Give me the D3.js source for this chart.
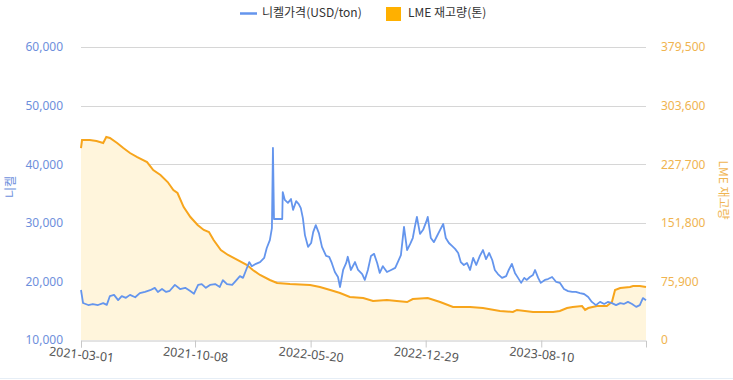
<!DOCTYPE html>
<html>
<head>
<meta charset="utf-8">
<script src="https://cdn.jsdelivr.net/npm/d3@7"></script>
<style>
  body { margin: 0; background: #fff; }
  svg { display: block; font-family: "Noto Sans CJK KR", "Noto Sans", sans-serif; }
</style>
</head>
<body>
<svg id="chart" width="733" height="380"></svg>
<script>
// nickel price, USD/ton
var nickel = [
  ["2021-03-01",18530],["2021-03-05",16310],["2021-03-15",15970],["2021-03-24",16140],["2021-04-03",15970],
  ["2021-04-13",16300],["2021-04-20",16000],["2021-04-26",17500],["2021-05-04",17700],["2021-05-12",16800],
  ["2021-05-19",17500],["2021-05-27",17200],["2021-06-04",17700],["2021-06-14",17300],["2021-06-23",18000],
  ["2021-07-03",18200],["2021-07-13",18500],["2021-07-22",18900],["2021-07-28",18200],["2021-08-05",18700],
  ["2021-08-13",18200],["2021-08-20",18400],["2021-08-30",19400],["2021-09-09",18700],["2021-09-19",18900],
  ["2021-09-28",18400],["2021-10-06",17900],["2021-10-14",19400],["2021-10-21",19550],["2021-10-29",18900],
  ["2021-11-06",19400],["2021-11-16",19550],["2021-11-25",19050],["2021-12-01",20200],["2021-12-09",19550],
  ["2021-12-19",19400],["2021-12-26",20100],["2022-01-03",20900],["2022-01-09",20600],["2022-01-15",21950],
  ["2022-01-21",23300],["2022-01-26",22600],["2022-02-03",23000],["2022-02-11",23300],["2022-02-19",24000],
  ["2022-02-24",25700],["2022-03-02",27050],["2022-03-06",29100],["2022-03-08",42800],["2022-03-10",30650],
  ["2022-03-26",30650],["2022-03-27",35250],["2022-03-31",33900],["2022-04-06",33400],["2022-04-12",34050],
  ["2022-04-16",32200],["2022-04-22",33700],["2022-04-27",33200],["2022-05-01",32500],["2022-05-05",30800],
  ["2022-05-09",27900],["2022-05-15",25900],["2022-05-21",26550],["2022-05-25",28400],["2022-05-30",29600],
  ["2022-06-05",28250],["2022-06-11",25900],["2022-06-19",24350],["2022-06-25",24200],["2022-06-30",23150],
  ["2022-07-06",21600],["2022-07-12",20750],["2022-07-16",19050],["2022-07-22",21950],["2022-07-28",23150],
  ["2022-07-31",24200],["2022-08-06",21950],["2022-08-14",23300],["2022-08-20",21950],["2022-08-28",21250],
  ["2022-09-02",20250],["2022-09-08",21950],["2022-09-14",24350],["2022-09-20",24700],["2022-09-26",23150],
  ["2022-10-01",21450],["2022-10-07",22600],["2022-10-15",21600],["2022-10-23",21950],["2022-10-31",22300],
  ["2022-11-05",23300],["2022-11-11",24500],["2022-11-17",29300],["2022-11-23",25350],["2022-11-29",26400],
  ["2022-12-04",27400],["2022-12-08",29300],["2022-12-12",31000],["2022-12-18",28100],["2022-12-24",28800],
  ["2022-12-30",30150],["2023-01-02",31000],["2023-01-08",27400],["2023-01-14",26700],["2023-01-20",27750],
  ["2023-01-26",28800],["2023-02-01",29800],["2023-02-06",27400],["2023-02-12",26550],["2023-02-18",26050],
  ["2023-02-24",25550],["2023-03-02",24850],["2023-03-07",23300],["2023-03-13",22800],["2023-03-19",23150],
  ["2023-03-25",21950],["2023-03-31",24000],["2023-04-06",22800],["2023-04-13",24350],["2023-04-19",25350],
  ["2023-04-25",23800],["2023-05-01",24850],["2023-05-07",23650],["2023-05-12",21950],["2023-05-18",21250],
  ["2023-05-26",20600],["2023-06-03",20900],["2023-06-08",21950],["2023-06-14",23000],["2023-06-20",21450],
  ["2023-06-26",20600],["2023-07-02",19750],["2023-07-08",20600],["2023-07-13",20250],["2023-07-19",20750],
  ["2023-07-25",21100],["2023-07-29",21950],["2023-08-04",20600],["2023-08-09",19750],["2023-08-17",20250],
  ["2023-08-23",20400],["2023-08-31",20750],["2023-09-08",19900],["2023-09-15",19750],["2023-09-23",18700],
  ["2023-10-01",18350],["2023-10-09",18200],["2023-10-16",18200],["2023-10-24",18000],["2023-11-01",17850],
  ["2023-11-09",17350],["2023-11-16",16500],["2023-11-24",15950],["2023-12-02",16500],["2023-12-10",16150],
  ["2023-12-17",16500],["2023-12-25",16300],["2024-01-02",15950],["2024-01-10",16300],["2024-01-17",16150],
  ["2024-01-25",16500],["2024-02-02",16150],["2024-02-10",15650],["2024-02-17",15950],["2024-02-23",17150],
  ["2024-02-29",16800]
];

// LME stocks, tons
var stock = [
  ["2021-03-01",248600],["2021-03-03",259000],["2021-03-18",259000],["2021-03-31",257700],["2021-04-13",255100],
  ["2021-04-19",262900],["2021-04-26",261600],["2021-05-10",255100],["2021-05-22",248600],["2021-06-04",242200],
  ["2021-06-18",237000],["2021-07-07",230500],["2021-07-19",220200],["2021-08-02",213700],["2021-08-16",204600],
  ["2021-08-27",194300],["2021-09-04",190400],["2021-09-16",172200],["2021-09-29",159300],["2021-10-13",148900],
  ["2021-10-25",142500],["2021-11-04",139900],["2021-11-13",129500],["2021-11-27",116600],["2021-12-11",110100],
  ["2021-12-30",103600],["2022-01-17",97100],["2022-01-28",90700],["2022-02-11",84200],["2022-03-02",77700],
  ["2022-03-16",73800],["2022-04-10",72500],["2022-05-19",71200],["2022-06-07",68600],["2022-06-27",64700],
  ["2022-07-16",60900],["2022-08-04",55700],["2022-08-30",54400],["2022-09-18",50500],["2022-10-15",51800],
  ["2022-11-03",50500],["2022-11-23",49200],["2022-12-04",53100],["2023-01-02",54400],["2023-01-26",49200],
  ["2023-02-20",42700],["2023-03-25",42700],["2023-04-19",41400],["2023-05-22",37600],["2023-06-16",36300],
  ["2023-06-24",38900],["2023-07-25",36300],["2023-09-02",36300],["2023-09-15",37600],["2023-09-29",41400],
  ["2023-10-10",42700],["2023-10-28",44000],["2023-11-03",38900],["2023-11-09",41400],["2023-11-26",44000],
  ["2023-12-15",44000],["2023-12-25",49200],["2023-12-31",64700],["2024-01-10",67300],["2024-01-29",68600],
  ["2024-02-04",69900],["2024-02-17",69900],["2024-02-29",68600]
];

var xTicks = ["2021-03-01", "2021-10-08", "2022-05-20", "2022-12-29", "2023-08-10"];
var leftTicks = [10000, 20000, 30000, 40000, 50000, 60000];
var rightTicks = [0, 75900, 151800, 227700, 303600, 379500];
var legendNames = ["니켈가격(USD/ton)", "LME 재고량(톤)"];

function drawChart() {
  var blue = "#6495ed", orange = "#f7a51c";
  var parse = d3.timeParse("%Y-%m-%d");

  var svg = d3.select("#chart");
  var plotL = 81, plotR = 646, plotT = 47, plotB = 340;

  var x = d3.scaleTime()
    .domain([parse("2021-03-01"), parse("2024-02-29")])
    .range([plotL, plotR]);
  var yL = d3.scaleLinear().domain([10000, 60000]).range([plotB, plotT]);
  var yR = d3.scaleLinear().domain([0, 379500]).range([plotB, plotT]);

  // grid
  svg.append("g")
    .selectAll("line")
    .data(leftTicks.slice(1))
    .enter().append("line")
    .attr("x1", plotL).attr("x2", plotR)
    .attr("y1", function(d) { return Math.round(yL(d)) + 0.5; })
    .attr("y2", function(d) { return Math.round(yL(d)) + 0.5; })
    .attr("stroke", "#d6d6d6");

  // stock area + line
  svg.append("path")
    .datum(stock)
    .attr("fill", "#fff5dc")
    .attr("d", d3.area()
      .x(function(d) { return x(parse(d[0])); })
      .y0(plotB)
      .y1(function(d) { return yR(d[1]); }));

  svg.append("path")
    .datum(stock)
    .attr("fill", "none")
    .attr("stroke", orange)
    .attr("stroke-width", 2)
    .attr("d", d3.line()
      .x(function(d) { return x(parse(d[0])); })
      .y(function(d) { return yR(d[1]); }));

  // nickel line
  svg.append("path")
    .datum(nickel)
    .attr("fill", "none")
    .attr("stroke", blue)
    .attr("stroke-width", 1.8)
    .attr("stroke-linejoin", "round")
    .attr("d", d3.line()
      .x(function(d) { return x(parse(d[0])); })
      .y(function(d) { return yL(d[1]); }));

  // x axis
  var xAxis = svg.append("g")
    .attr("transform", "translate(0," + (plotB + 0.5) + ")")
    .call(d3.axisBottom(x)
      .tickValues(xTicks.map(parse))
      .tickSize(7)
      .tickFormat(d3.timeFormat("%Y-%m-%d")));
  xAxis.select(".domain").attr("stroke", "#c8c8c8");
  xAxis.selectAll(".tick line").attr("stroke", "#c8c8c8");
  xAxis.selectAll(".tick text")
    .attr("fill", "#555")
    .style("font-size", "12.5px")
    .style("font-family", "'Noto Sans', sans-serif")
    .attr("y", 0).attr("dy", 0)
    .attr("text-anchor", "middle")
    .attr("dominant-baseline", "middle")
    .attr("transform", "translate(0,15) rotate(6)");

  // left axis
  var yAxisL = svg.append("g")
    .attr("transform", "translate(" + (plotL - 15) + ",0)")
    .call(d3.axisLeft(yL).tickValues(leftTicks).tickSize(0).tickFormat(d3.format(",")));
  yAxisL.select(".domain").remove();
  yAxisL.selectAll("text")
    .attr("fill", "#6d8fdc")
    .style("font-size", "12px")
    .style("font-family", "'Noto Sans', sans-serif");

  // right axis
  var yAxisR = svg.append("g")
    .attr("transform", "translate(" + (plotR + 15) + ",0)")
    .call(d3.axisRight(yR).tickValues(rightTicks).tickSize(0).tickFormat(d3.format(",")));
  yAxisR.select(".domain").remove();
  yAxisR.selectAll("text")
    .attr("fill", "#f0b450")
    .attr("x", 0)
    .style("font-size", "12px")
    .style("font-family", "'Noto Sans', sans-serif");

  // axis titles
  svg.append("text")
    .attr("transform", "translate(12,187) rotate(-90)")
    .attr("text-anchor", "middle")
    .attr("dominant-baseline", "middle")
    .attr("fill", "#6d8fdc")
    .style("font-size", "12px")
    .text("니켈");

  svg.append("text")
    .attr("transform", "translate(722,190) rotate(90)")
    .attr("text-anchor", "middle")
    .attr("dominant-baseline", "middle")
    .attr("fill", "#f0b450")
    .style("font-size", "12px")
    .text("LME 재고량");

  // legend
  var legend = svg.append("g");
  legend.append("line")
    .attr("x1", 240).attr("x2", 257).attr("y1", 13.5).attr("y2", 13.5)
    .attr("stroke", blue).attr("stroke-width", 2.5);
  legend.append("text")
    .attr("x", 262).attr("y", 14)
    .attr("dominant-baseline", "middle")
    .attr("fill", "#333")
    .style("font-size", "12px")
    .text(legendNames[0]);
  legend.append("rect")
    .attr("x", 386).attr("y", 7).attr("width", 15).attr("height", 14)
    .attr("fill", "#ffb000");
  legend.append("text")
    .attr("x", 408).attr("y", 14)
    .attr("dominant-baseline", "middle")
    .attr("fill", "#333")
    .style("font-size", "12px")
    .text(legendNames[1]);

  // faint bottom border
  svg.append("line")
    .attr("x1", 0).attr("x2", 733).attr("y1", 378.5).attr("y2", 378.5)
    .attr("stroke", "#e6eef6");
}

drawChart();
</script>
</body>
</html>
